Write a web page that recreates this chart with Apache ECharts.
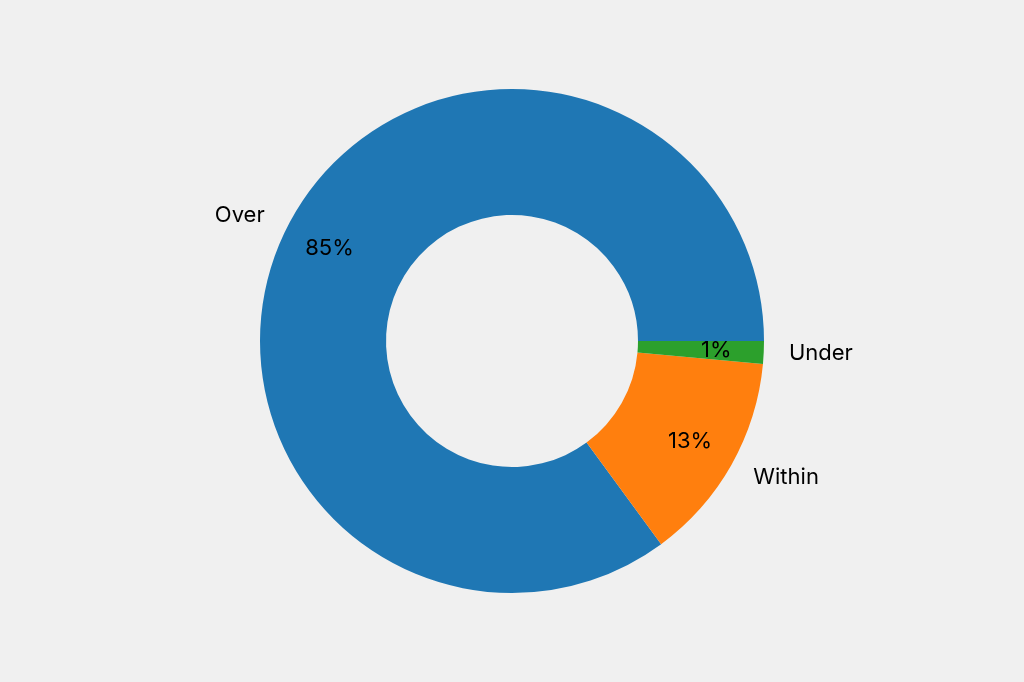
<!DOCTYPE html>
<html>
<head>
<meta charset="utf-8">
<style>
html,body{margin:0;padding:0;background:#f0f0f0;}
#chart{width:1024px;height:682px;}
</style>
<script src="https://cdn.jsdelivr.net/npm/echarts@6/dist/echarts.min.js"></script>
</head>
<body>
<div id="chart"></div>
<script>
const categories = ['Over', 'Within', 'Under'];
const values = [85.08, 13.47, 1.45];
const colors = ['#1f77b4', '#ff7f0e', '#2ca02c'];

const R = 252, R0 = 126;
const FONT = 'Inter, "Noto Sans", sans-serif';
const data = categories.map((c, i) => ({ name: c, value: values[i], itemStyle: { color: colors[i] } }));

const chart = echarts.init(document.getElementById('chart'));
chart.setOption({
  backgroundColor: '#f0f0f0',
  animation: false,
  series: [
    {
      type: 'pie',
      radius: [R0, R],
      center: ['50%', '50%'],
      startAngle: 0,
      clockwise: false,
      avoidLabelOverlap: false,
      silent: true,
      percentPrecision: 2,
      data: data,
      itemStyle: { borderWidth: 0 },
      label: {
        show: true,
        position: 'outside',
        formatter: '{b}',
        color: '#000',
        fontFamily: FONT,
        fontSize: 22,
        distanceToLabelLine: 0
      },
      labelLine: { show: false, length: R * 0.1, length2: 0 }
    },
    {
      type: 'pie',
      radius: [R * 0.6, R],
      center: ['50%', '50%'],
      startAngle: 0,
      clockwise: false,
      avoidLabelOverlap: false,
      silent: true,
      percentPrecision: 2,
      data: categories.map((c, i) => ({ name: c, value: values[i] })),
      itemStyle: { color: 'rgba(0,0,0,0)', borderWidth: 0 },
      label: {
        show: true,
        position: 'inside',
        formatter: p => Math.round(p.percent) + '%',
        color: '#000',
        fontFamily: FONT,
        fontSize: 22
      },
      labelLine: { show: false }
    }
  ]
});
</script>
</body>
</html>
